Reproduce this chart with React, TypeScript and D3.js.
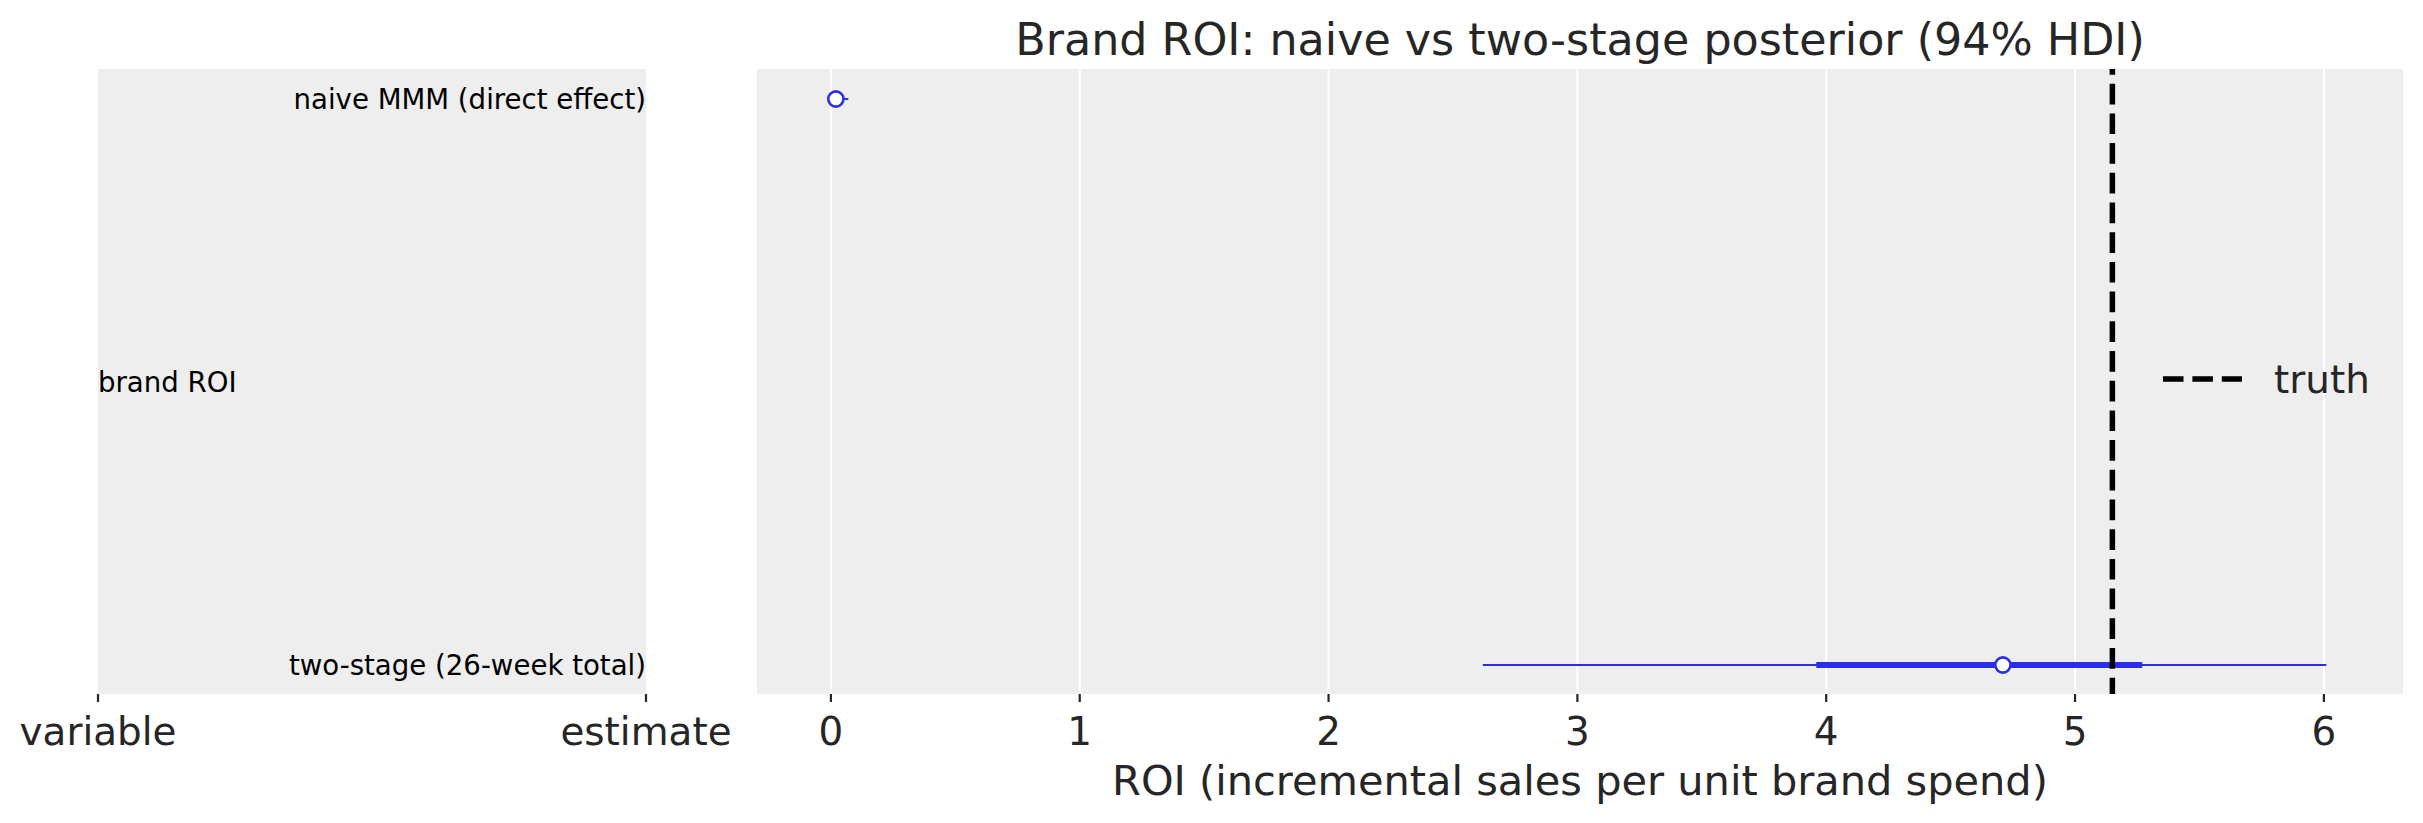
import * as d3 from "d3";

// forest rows
const rowLabels = ["naive MMM (direct effect)", "two-stage (26-week total)"];
const medians = [0.02, 4.71];
const hdiLow = [0.0, 2.62];
const hdiHigh = [0.07, 6.01];
const iqrLow = [0.005, 3.96];
const iqrHigh = [0.035, 5.27];
const truthValue = 5.15;
const xTicks = [0, 1, 2, 3, 4, 5, 6];
const leftTicks = ["variable", "estimate"];

const W = 2423;
const H = 823;
const BLUE = "#2a2eec";
const TEXT = "#262626";
const FONT = "DejaVu Sans, sans-serif";

export default function App() {
  const panelTop = 69;
  const panelBottom = 694;

  // right panel (the forest)
  const x = d3.scaleLinear().domain([-0.297, 6.318]).range([757, 2403]);
  const y = d3.scalePoint<string>().domain(rowLabels).range([99, 665]);

  // left panel (the label table)
  const lx = d3.scalePoint<string>().domain(leftTicks).range([98, 646]);

  const midY = (y(rowLabels[0])! + y(rowLabels[1])!) / 2;
  const cx = (x.range()[0] + x.range()[1]) / 2;

  return (
    <svg
      width={W}
      height={H}
      style={{ position: "absolute", left: 0, top: 0, background: "#fff" }}
      fontFamily={FONT}
    >
      {/* left panel */}
      <rect
        x={lx("variable")}
        y={panelTop}
        width={lx("estimate")! - lx("variable")!}
        height={panelBottom - panelTop}
        fill="#eeeeee"
      />
      {rowLabels.map((r) => (
        <text
          key={r}
          x={lx("estimate")}
          y={y(r)}
          textAnchor="end"
          dominantBaseline="central"
          fontSize={27.6}
          fill="#000"
        >
          {r}
        </text>
      ))}
      <text x={lx("variable")} y={midY} dominantBaseline="central" fontSize={27.6} fill="#000">
        brand ROI
      </text>
      {leftTicks.map((t) => (
        <g key={t}>
          <line x1={lx(t)} x2={lx(t)} y1={panelBottom} y2={panelBottom + 8} stroke={TEXT} strokeWidth={2.2} />
          <text x={lx(t)} y={731} textAnchor="middle" dominantBaseline="central" fontSize={38.9} fill={TEXT}>
            {t}
          </text>
        </g>
      ))}

      {/* right panel */}
      <rect
        x={x.range()[0]}
        y={panelTop}
        width={x.range()[1] - x.range()[0]}
        height={panelBottom - panelTop}
        fill="#eeeeee"
      />
      {xTicks.map((t) => (
        <g key={t}>
          <line x1={x(t)} x2={x(t)} y1={panelTop} y2={panelBottom} stroke="#fff" strokeWidth={2} />
          <line x1={x(t)} x2={x(t)} y1={panelBottom} y2={panelBottom + 8} stroke={TEXT} strokeWidth={2.2} />
          <text x={x(t)} y={731} textAnchor="middle" dominantBaseline="central" fontSize={38.9} fill={TEXT}>
            {t}
          </text>
        </g>
      ))}

      {rowLabels.map((r, i) => (
        <g key={r}>
          <line x1={x(hdiLow[i])} x2={x(hdiHigh[i])} y1={y(r)} y2={y(r)} stroke={BLUE} strokeWidth={2} />
          <line x1={x(iqrLow[i])} x2={x(iqrHigh[i])} y1={y(r)} y2={y(r)} stroke={BLUE} strokeWidth={6} />
          <circle cx={x(medians[i])} cy={y(r)} r={7.6} fill="#fff" stroke={BLUE} strokeWidth={2.6} />
        </g>
      ))}

      <line
        x1={x(truthValue)}
        x2={x(truthValue)}
        y1={panelTop}
        y2={panelBottom}
        stroke="#000"
        strokeWidth={5.5}
        strokeDasharray="20.7 9"
        strokeDashoffset={15}
      />

      {/* legend */}
      <line x1={2163} x2={2242} y1={379} y2={379} stroke="#000" strokeWidth={5.5} strokeDasharray="20.5 8.9" />
      <text x={2274} y={379} dominantBaseline="central" fontSize={38.9} fill={TEXT}>
        truth
      </text>

      <text x={cx} y={39} textAnchor="middle" dominantBaseline="central" fontSize={44.4} fill={TEXT}>
        Brand ROI: naive vs two-stage posterior (94% HDI)
      </text>
      <text x={cx} y={780} textAnchor="middle" dominantBaseline="central" fontSize={41.5} fill={TEXT}>
        ROI (incremental sales per unit brand spend)
      </text>
    </svg>
  );
}
